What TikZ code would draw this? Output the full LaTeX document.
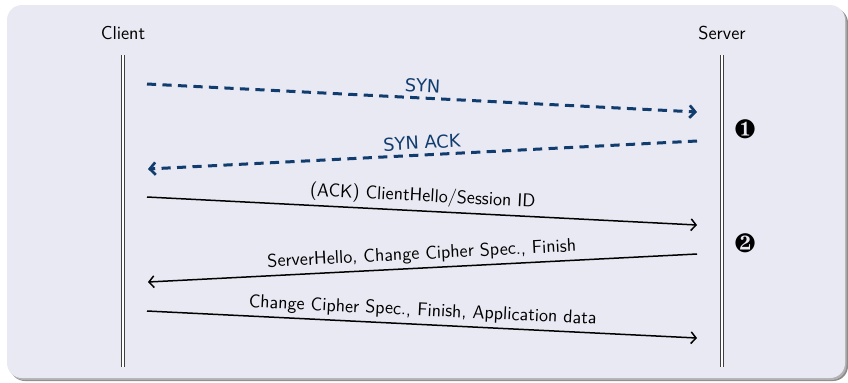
\documentclass[tikz,border=0pt]{standalone}
\usepackage{fontspec}
\usepackage{pifont}
\newfontfamily\dejavu{DejaVu Sans}
\usetikzlibrary{arrows.meta}
\definecolor{bgbox}{RGB}{233,233,243}
\definecolor{synblue}{RGB}{16,60,110}
\tikzset{
  party/.style={font=\sffamily\fontsize{11.2}{13}\selectfont, text=black},
  lifeline/.style={double, line width=0.5pt, double distance=1pt, draw=black!75},
  synmsg/.style={draw=synblue, line width=1.8pt, dash pattern=on 5.5pt off 3.8pt,
    -{Straight Barb[length=3.4pt, width=7.5pt, line width=1.6pt]}},
  msg/.style={draw=black, line width=0.9pt,
    -{Straight Barb[length=3pt, width=7pt, line width=0.9pt]}},
  synlbl/.style={font=\dejavu\fontsize{10.7}{12}\selectfont, text=synblue, sloped, above, inner sep=2.5pt},
  msglbl/.style={font=\sffamily\fontsize{11.1}{13}\selectfont, text=black, sloped, above, inner sep=2.5pt},
  marker/.style={font=\fontsize{16}{16}\selectfont, inner sep=0pt}
}
\begin{document}
\begin{tikzpicture}[x=0.6pt, y=-0.6pt]
\useasboundingbox (0,0) rectangle (848,382);
% box with shadow
\fill[black!45, rounded corners=9pt] (10,8) rectangle (848,381);
\fill[black!30, rounded corners=9pt] (9,7) rectangle (846.5,380);
\fill[bgbox, rounded corners=9pt] (7,5) rectangle (845,378);
% parties
\node[party] (client) at (123,33) {Client};
\node[party] (server) at (722,33) {Server};
\coordinate (ctop) at (123,55);
\coordinate (cbot) at (123,367);
\coordinate (stop) at (722,55);
\coordinate (sbot) at (722,367);
\draw[lifeline] (ctop) -- (cbot);
\draw[lifeline] (stop) -- (sbot);
% message end points
\coordinate (c1) at (147,84);  \coordinate (s1) at (697,112);
\coordinate (s2) at (697,141); \coordinate (c2) at (148,169);
\coordinate (c3) at (147,197); \coordinate (s3) at (697,225);
\coordinate (s4) at (697,254); \coordinate (c4) at (148,282);
\coordinate (c5) at (147,311); \coordinate (s5) at (697,338);
% messages
\draw[synmsg] (c1) -- node[synlbl] {SYN} (s1);
\draw[synmsg] (s2) -- node[synlbl] {SYN ACK} (c2);
\draw[msg] (c3) -- node[msglbl] {(ACK) ClientHello/Session ID} (s3);
\draw[msg] (s4) -- node[msglbl] {ServerHello, Change Cipher Spec., Finish} (c4);
\draw[msg] (c5) -- node[msglbl] {Change Cipher Spec., Finish, Application data} (s5);
% phase markers
\node[marker] (m1) at (745,129) {\ding{182}};
\node[marker] (m2) at (745,243) {\ding{183}};
\end{tikzpicture}
\end{document}
